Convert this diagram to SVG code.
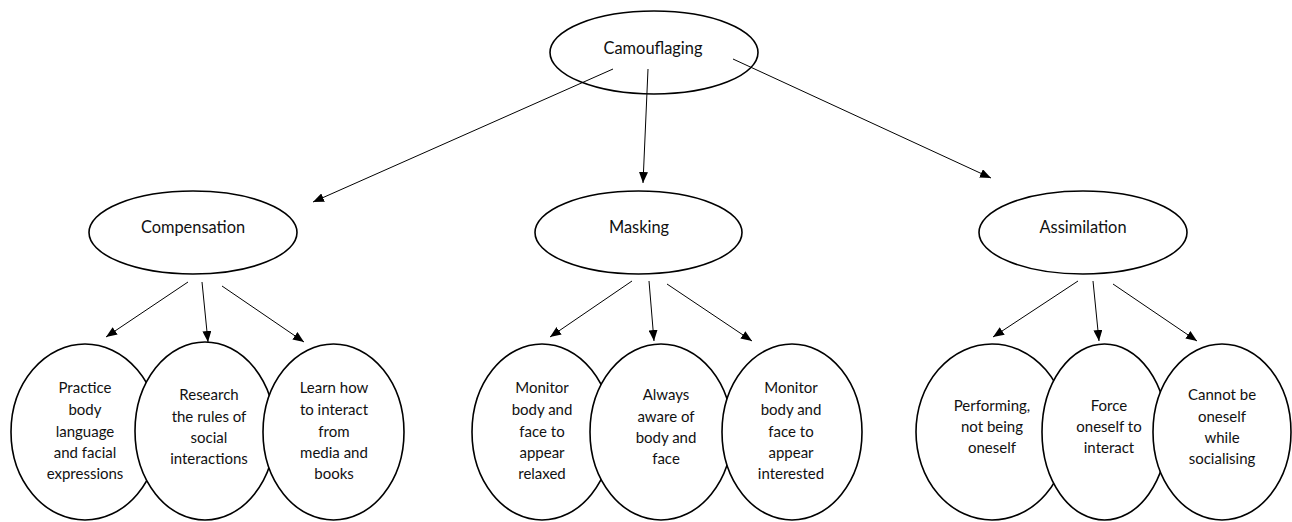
<svg xmlns="http://www.w3.org/2000/svg" width="1292" height="522" viewBox="0 0 1292 522">
<style>
.n{fill:#fff;stroke:#000;stroke-width:1.6}
.t{font-family:Lato,"Liberation Sans",sans-serif;font-size:15px;fill:#111;text-anchor:middle}
.h{font-size:16.4px}
.c line{stroke:#000;stroke-width:1;marker-end:url(#ah)}
</style>
<defs>
<marker id="ah" markerUnits="userSpaceOnUse" markerWidth="11" markerHeight="9" refX="11" refY="4.5" orient="auto">
<path d="M0,0 L11,4.5 L0,9 z" fill="#000"/>
</marker>
</defs>
<rect width="1292" height="522" fill="#fff"/>
<g id="camouflaging"><ellipse class="n" cx="654" cy="52.5" rx="104" ry="41.5"/><text class="t h" x="653" y="53.5">Camouflaging</text></g>
<g id="compensation"><ellipse class="n" cx="193" cy="232.5" rx="104" ry="41.5"/><text class="t h" x="193" y="232.5">Compensation</text></g>
<g id="masking"><ellipse class="n" cx="638.5" cy="232.5" rx="103.5" ry="41.5"/><text class="t h" x="639" y="232.5">Masking</text></g>
<g id="assimilation"><ellipse class="n" cx="1083" cy="232.5" rx="104" ry="41.5"/><text class="t h" x="1083" y="232.5">Assimilation</text></g>

<g id="c1"><ellipse class="n" cx="85" cy="432" rx="74" ry="88"/><text class="t"><tspan x="85" y="393">Practice</tspan><tspan x="85" y="415">body</tspan><tspan x="85" y="437">language</tspan><tspan x="85" y="458">and facial</tspan><tspan x="85" y="479">expressions</tspan></text></g>
<g id="c2"><ellipse class="n" cx="205" cy="431" rx="70" ry="89"/><text class="t"><tspan x="209" y="400">Research</tspan><tspan x="209" y="422">the rules of</tspan><tspan x="209" y="443">social</tspan><tspan x="209" y="464">interactions</tspan></text></g>
<g id="c3"><ellipse class="n" cx="333.5" cy="432" rx="70.5" ry="88"/><text class="t"><tspan x="334" y="393">Learn how</tspan><tspan x="334" y="415">to interact</tspan><tspan x="334" y="437">from</tspan><tspan x="334" y="458">media and</tspan><tspan x="334" y="479">books</tspan></text></g>

<g id="m1"><ellipse class="n" cx="542" cy="432" rx="70" ry="88"/><text class="t"><tspan x="542" y="393">Monitor</tspan><tspan x="542" y="415">body and</tspan><tspan x="542" y="437">face to</tspan><tspan x="542" y="458">appear</tspan><tspan x="542" y="479">relaxed</tspan></text></g>
<g id="m2"><ellipse class="n" cx="661" cy="432" rx="71" ry="88"/><text class="t"><tspan x="666" y="400">Always</tspan><tspan x="666" y="422">aware of</tspan><tspan x="666" y="443">body and</tspan><tspan x="666" y="464">face</tspan></text></g>
<g id="m3"><ellipse class="n" cx="792" cy="432" rx="70" ry="88"/><text class="t"><tspan x="791" y="393">Monitor</tspan><tspan x="791" y="415">body and</tspan><tspan x="791" y="437">face to</tspan><tspan x="791" y="458">appear</tspan><tspan x="791" y="479">interested</tspan></text></g>

<g id="a1"><ellipse class="n" cx="992" cy="432" rx="76" ry="88"/><text class="t"><tspan x="992" y="411">Performing,</tspan><tspan x="992" y="432">not being</tspan><tspan x="992" y="453">oneself</tspan></text></g>
<g id="a2"><ellipse class="n" cx="1104.5" cy="432" rx="62.5" ry="88"/><text class="t"><tspan x="1109" y="411">Force</tspan><tspan x="1109" y="432">oneself to</tspan><tspan x="1109" y="453">interact</tspan></text></g>
<g id="a3"><ellipse class="n" cx="1222" cy="432" rx="69" ry="88"/><text class="t"><tspan x="1222" y="400">Cannot be</tspan><tspan x="1222" y="422">oneself</tspan><tspan x="1222" y="443">while</tspan><tspan x="1222" y="464">socialising</tspan></text></g>

<g id="connectors" class="c">
<line x1="613" y1="69" x2="313" y2="202"/>
<line x1="648" y1="69" x2="643" y2="183"/>
<line x1="733" y1="59" x2="991" y2="178"/>
<line x1="188" y1="282" x2="106" y2="337"/>
<line x1="202" y1="282" x2="208" y2="342"/>
<line x1="222" y1="286" x2="304" y2="342"/>
<line x1="632" y1="281" x2="550" y2="337"/>
<line x1="649" y1="281" x2="654" y2="341"/>
<line x1="667" y1="284" x2="752" y2="341"/>
<line x1="1078" y1="281" x2="993" y2="337"/>
<line x1="1093" y1="281" x2="1099" y2="341"/>
<line x1="1113" y1="284" x2="1197" y2="341"/>
</g>
</svg>
